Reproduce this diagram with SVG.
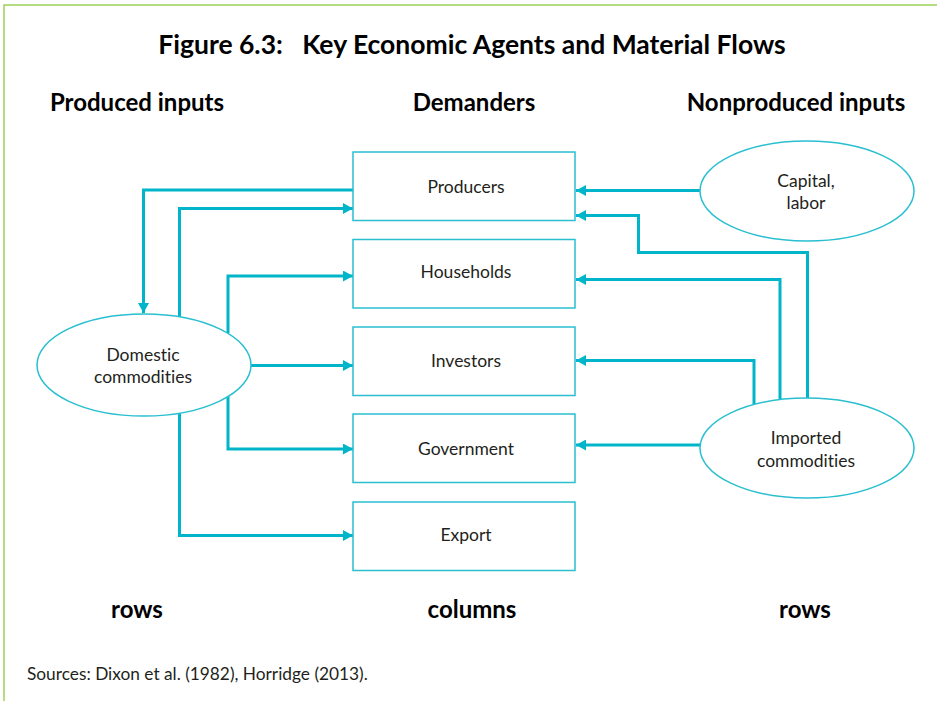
<svg xmlns="http://www.w3.org/2000/svg" width="937" height="701" viewBox="0 0 937 701">
<defs>
<style>
text{font-variant-ligatures:none}
.frame{stroke:#9fd15a;stroke-width:1.5;fill:none}
.box{fill:#fff;stroke:#29bfd0;stroke-width:1.5}
.ell{fill:#fff;stroke:#29bfd0;stroke-width:1.5}
.lbl{font-family:Lato,"Open Sans",sans-serif;font-size:17.5px;fill:#231f20;text-anchor:middle}
.hdr{font-family:Lato,"Open Sans",sans-serif;font-size:24px;font-weight:bold;fill:#000;text-anchor:middle}
.ttl{font-family:Lato,"Open Sans",sans-serif;font-size:26.5px;font-weight:bold;fill:#000;text-anchor:middle}
.src{font-family:Lato,"Open Sans",sans-serif;font-size:17.3px;fill:#231f20}
.con{fill:none;stroke:#00b5c9;stroke-width:3;stroke-linejoin:miter}
</style>
<marker id="ah" viewBox="0 0 10 11" refX="10" refY="5.5" markerWidth="10" markerHeight="11" markerUnits="userSpaceOnUse" orient="auto">
<path d="M0,0 L10,5.5 L0,11 Z" fill="#00b5c9"/>
</marker>
</defs>
<rect width="937" height="701" fill="#fff"/>
<path class="frame" d="M4,701 V5 H937"/>
<text class="ttl" x="472" y="54" xml:space="preserve">Figure 6.3:   Key Economic Agents and Material Flows</text>
<text class="hdr" x="137" y="111">Produced inputs</text>
<text class="hdr" x="474" y="111">Demanders</text>
<text class="hdr" x="796" y="111">Nonproduced inputs</text>
<text class="hdr" x="137" y="618">rows</text>
<text class="hdr" x="472" y="618">columns</text>
<text class="hdr" x="805" y="618">rows</text>
<text class="src" x="27" y="680">Sources: Dixon et al. (1982), Horridge (2013).</text>
<g id="connectors">
<path class="con" marker-end="url(#ah)" d="M353,190 H143.5 V313"/>
<path class="con" marker-end="url(#ah)" d="M179.5,317 V208.5 H353"/>
<path class="con" marker-end="url(#ah)" d="M228,333 V276 H353"/>
<path class="con" marker-end="url(#ah)" d="M251,365.5 H353"/>
<path class="con" marker-end="url(#ah)" d="M228,396 V449 H353"/>
<path class="con" marker-end="url(#ah)" d="M179.5,413 V535.5 H353"/>
<path class="con" marker-end="url(#ah)" d="M700,190.5 H576"/>
<path class="con" marker-end="url(#ah)" d="M807.5,398 V252.5 H638.5 V215.5 H576"/>
<path class="con" marker-end="url(#ah)" d="M780,400 V279.5 H576"/>
<path class="con" marker-end="url(#ah)" d="M754,405 V360.5 H576"/>
<path class="con" marker-end="url(#ah)" d="M700,445 H576"/>
</g>
<g id="producers"><rect class="box" x="353" y="152" width="222" height="68.5"/><text class="lbl" x="466" y="193">Producers</text></g>
<g id="households"><rect class="box" x="353" y="239.5" width="222" height="68.5"/><text class="lbl" x="466" y="278">Households</text></g>
<g id="investors"><rect class="box" x="353" y="327" width="222" height="68.5"/><text class="lbl" x="466" y="366.5">Investors</text></g>
<g id="government"><rect class="box" x="353" y="414" width="222" height="68.5"/><text class="lbl" x="466" y="455">Government</text></g>
<g id="export"><rect class="box" x="353" y="502" width="222" height="68.5"/><text class="lbl" x="466" y="540.5">Export</text></g>
<g id="domestic"><ellipse class="ell" cx="144" cy="365" rx="107" ry="51"/><text class="lbl" x="143" y="360.5">Domestic</text><text class="lbl" x="143" y="382.5">commodities</text></g>
<g id="capital"><ellipse class="ell" cx="807" cy="191" rx="107" ry="50"/><text class="lbl" x="806" y="186.5">Capital,</text><text class="lbl" x="806" y="208.5">labor</text></g>
<g id="imported"><ellipse class="ell" cx="807" cy="448" rx="107" ry="50"/><text class="lbl" x="806" y="444">Imported</text><text class="lbl" x="806" y="466.5">commodities</text></g>
</svg>
